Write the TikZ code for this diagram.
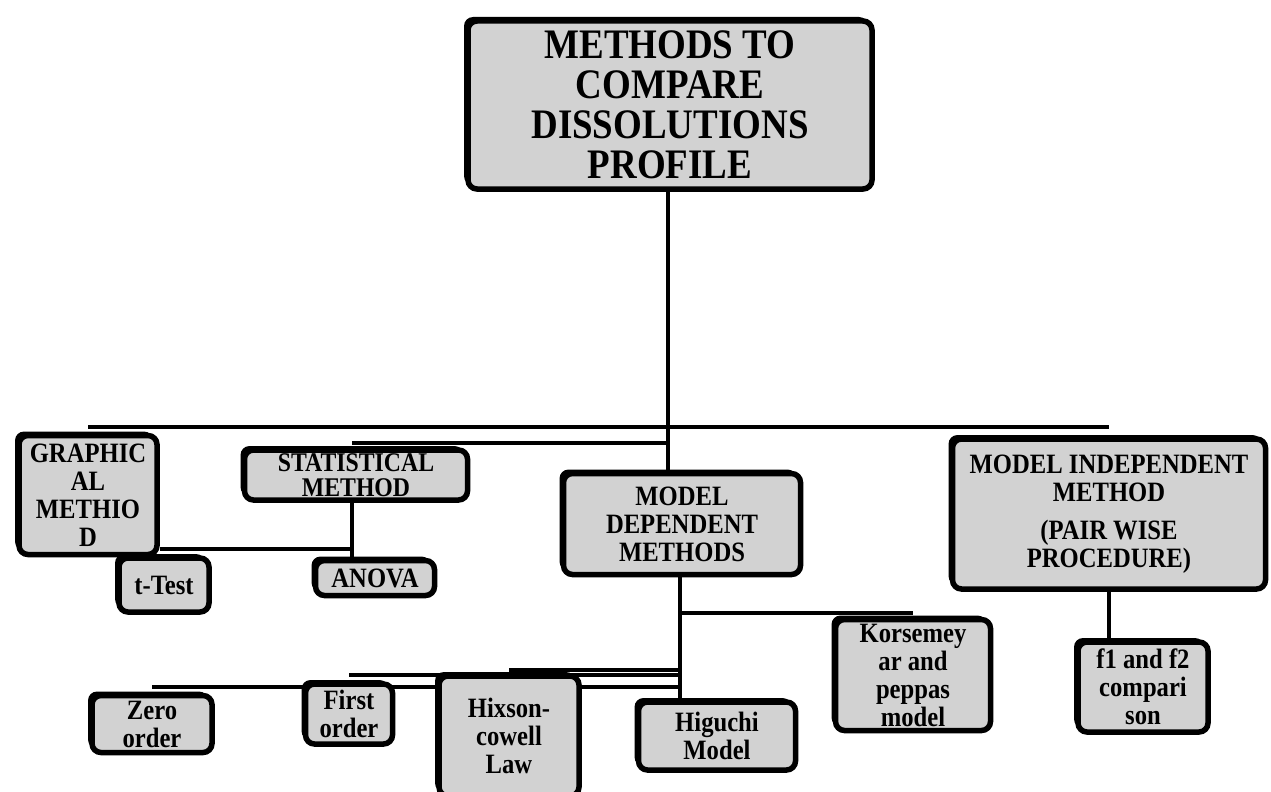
\documentclass[tikz,border=0pt]{standalone}
\usepackage{fontspec}
\setmainfont{Liberation Serif}[FakeStretch=0.88]
\usetikzlibrary{shadows}
\pgfdeclarelayer{background}
\pgfsetlayers{background,main}

\begin{document}
\begin{tikzpicture}[x=1pt,y=-1pt,
  method node/.style={draw,rounded corners=9pt,line width=5.5pt,fill=gray!35,
    align=center,inner sep=0pt,
    drop shadow={shadow xshift=-4pt,shadow yshift=4pt,fill=black,opacity=1},
    font=\bfseries\fontsize{28}{28}\selectfont},
  big node/.style={method node,font=\bfseries\fontsize{42}{40}\selectfont},
  link/.style={line width=4pt}]

  \useasboundingbox (0,0) rectangle (1271,792);

  \node[big node,minimum width=404pt,minimum height=168pt] (root) at (670,105) {METHODS TO\\COMPARE\\DISSOLUTIONS\\PROFILE};

  \node[method node,minimum width=138pt,minimum height=119pt] (graph) at (88,495) {GRAPHIC\\AL\\METHIO\\D};
  \node[method node,minimum width=223pt,minimum height=50pt,
    font=\bfseries\fontsize{27}{25}\selectfont] (stat) at (356,475) {STATISTICAL\\METHOD};
  \node[method node,minimum width=237pt,minimum height=101pt] (dep) at (682,524) {MODEL\\DEPENDENT\\METHODS};
  \node[method node,minimum width=313pt,minimum height=150pt] (indep) at (1109,514) {MODEL INDEPENDENT\\METHOD\\[10pt](PAIR WISE\\PROCEDURE)};

  \node[method node,minimum width=90pt,minimum height=54pt] (ttest) at (164,585) {t-Test};
  \node[method node,minimum width=119pt,minimum height=35pt] (anova) at (375,578) {ANOVA};

  \node[method node,minimum width=120pt,minimum height=57pt] (zero) at (152,724) {Zero\\order};
  \node[method node,minimum width=87pt,minimum height=60pt] (first) at (349,714) {First\\order};
  \node[method node,minimum width=140pt,minimum height=120pt] (hixson) at (509,736) {Hixson-\\cowell\\Law};
  \node[method node,minimum width=157pt,minimum height=68pt] (higuchi) at (717,736) {Higuchi\\Model};
  \node[method node,minimum width=155pt,minimum height=111pt] (kors) at (913,675) {Korsemey\\ar and\\peppas\\model};
  \node[method node,minimum width=130pt,minimum height=90pt] (f1f2) at (1143,687) {f1 and f2\\compari\\son};

  % connectors behind the boxes
  \begin{pgfonlayer}{background}
    \coordinate (topbar) at (668,427);
    \coordinate (statbar) at (668,443);
    \coordinate (ttbar) at (352,549);
    \coordinate (korsbar) at (680,613);
    \coordinate (hixbar) at (680,670);
    \coordinate (firstbar) at (680,675);
    \coordinate (zerobar) at (680,687);

    \draw[link] (root.south -| topbar) -- (topbar |- dep.north);
    \draw[link] (graph.north |- topbar) -- (indep.north |- topbar);
    \draw[link] (statbar -| ttbar) -- (statbar);
    \draw[link] (stat.south -| ttbar) -- (ttbar |- anova.north);
    \draw[link] (ttbar -| graph.east) -- (ttbar);

    \draw[link] (dep.south -| korsbar) -- (korsbar |- higuchi.north);
    \draw[link] (korsbar) -- (korsbar -| kors.north);
    \draw[link] (hixbar) -- (hixbar -| hixson.north);
    \draw[link] (firstbar) -- (firstbar -| first.north);
    \draw[link] (zerobar) -- (zerobar -| zero.north);

    \draw[link] (indep.south) -- (indep.south |- f1f2.north);
  \end{pgfonlayer}
\end{tikzpicture}
\end{document}
